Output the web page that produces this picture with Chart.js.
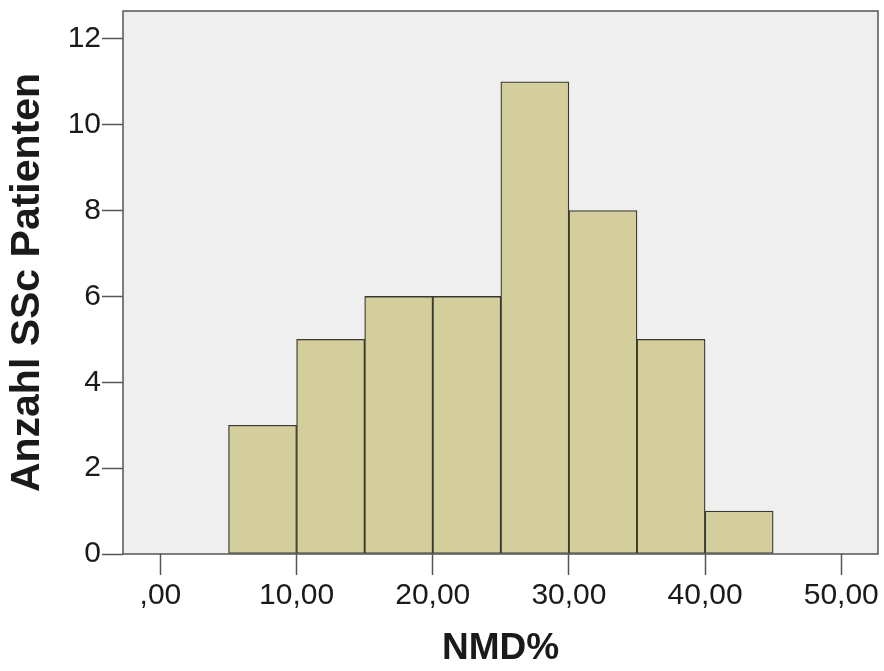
<!DOCTYPE html>
<html>
<head>
<meta charset="utf-8">
<script src="https://cdn.jsdelivr.net/npm/chart.js"></script>
<style>
    html, body { margin: 0; padding: 0; background: #fff; }
    canvas { display: block; }
</style>
</head>
<body>
<canvas id="histogram" width="884" height="671"></canvas>
<script>
// Klassenmitten (NMD%) und Häufigkeiten
const binCenters = [7.5, 12.5, 17.5, 22.5, 27.5, 32.5, 37.5, 42.5];
const counts = [3, 5, 6, 6, 11, 8, 5, 1];
const xTicks = [0, 10, 20, 30, 40, 50];
const yTicks = [0, 2, 4, 6, 8, 10, 12];

const COLORS = {
    bar: '#d4ce9c',
    barBorder: '#3a3a30',
    plotBg: '#efefef',
    frame: '#555555',
    text: '#1a1a1a',
};

// Hintergrund und Rahmen der Zeichenfläche
const plotFrame = {
    id: 'plotFrame',
    beforeDatasetsDraw(chart) {
        const { ctx, chartArea: a } = chart;
        ctx.save();
        ctx.fillStyle = COLORS.plotBg;
        ctx.fillRect(a.left, a.top, a.right - a.left, a.bottom - a.top);
        ctx.restore();
    },
    afterDatasetsDraw(chart) {
        const { ctx, chartArea: a } = chart;
        ctx.save();
        ctx.strokeStyle = COLORS.frame;
        ctx.lineWidth = 1.5;
        ctx.strokeRect(a.left, a.top, a.right - a.left, a.bottom - a.top);
        ctx.restore();
    }
};

new Chart(document.getElementById('histogram'), {
    type: 'bar',
    data: {
        datasets: [{
            data: binCenters.map((x, i) => ({ x: x, y: counts[i] })),
            backgroundColor: COLORS.bar,
            borderColor: COLORS.barBorder,
            borderWidth: 1.3,
            borderSkipped: false,
            barPercentage: 1,
            categoryPercentage: 1,
        }]
    },
    options: {
        responsive: false,
        animation: false,
        layout: { padding: { top: 11, right: 6, left: 0, bottom: 0 } },
        plugins: {
            legend: { display: false },
            tooltip: { enabled: false },
        },
        scales: {
            x: {
                type: 'linear',
                offset: false,
                min: -2.75,
                max: 52.7,
                afterFit(scale) {
                    scale.height = 117;
                    scale.paddingLeft = 0;
                    scale.paddingRight = 0;
                },
                afterBuildTicks(scale) { scale.ticks = xTicks.map(v => ({ value: v })); },
                grid: {
                    offset: false,
                    drawOnChartArea: false,
                    tickLength: 21,
                    tickWidth: 1.5,
                    tickColor: COLORS.frame,
                },
                border: { display: false },
                ticks: {
                    padding: 3,
                    color: COLORS.text,
                    font: { family: 'Arial, "Liberation Sans", sans-serif', size: 30 },
                    callback: v => (v === 0 ? ',00' : v + ',00'),
                },
                title: {
                    display: true,
                    text: 'NMD%',
                    color: COLORS.text,
                    padding: { top: 0, bottom: 4 },
                    font: { family: 'Arial, "Liberation Sans", sans-serif', size: 37, weight: 'bold', lineHeight: 1 },
                },
            },
            y: {
                min: 0,
                max: 12.65,
                afterFit(scale) {
                    scale.width = 123;
                    scale.paddingTop = 0;
                    scale.paddingBottom = 0;
                },
                afterBuildTicks(scale) { scale.ticks = yTicks.map(v => ({ value: v })); },
                grid: {
                    drawOnChartArea: false,
                    tickLength: 21,
                    tickWidth: 1.5,
                    tickColor: COLORS.frame,
                },
                border: { display: false },
                ticks: {
                    padding: 1,
                    color: COLORS.text,
                    font: { family: 'Arial, "Liberation Sans", sans-serif', size: 30 },
                },
                title: {
                    display: true,
                    text: 'Anzahl SSc Patienten',
                    color: COLORS.text,
                    padding: { top: 7, bottom: 0 },
                    font: { family: 'Arial, "Liberation Sans", sans-serif', size: 41, weight: 'bold', lineHeight: 1 },
                },
            }
        }
    },
    plugins: [plotFrame]
});
</script>
</body>
</html>
